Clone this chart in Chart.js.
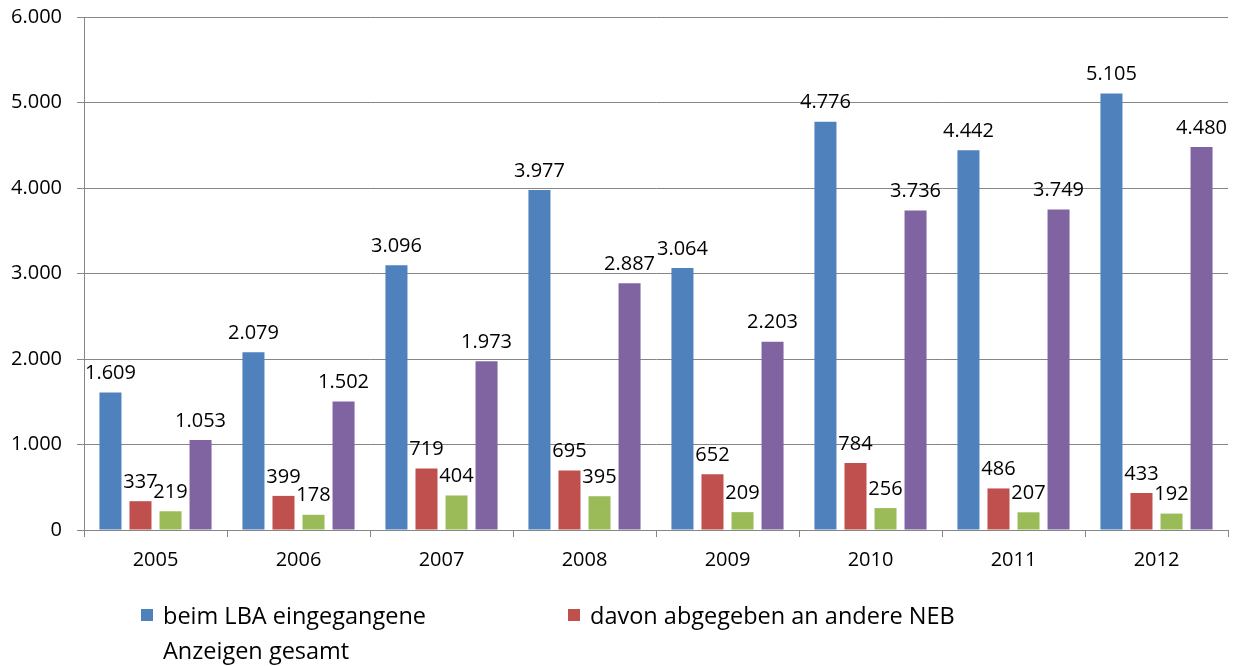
<!DOCTYPE html>
<html>
<head>
<meta charset="utf-8">
<script src="https://cdn.jsdelivr.net/npm/chart.js@4"></script>
<style>
  html, body { margin: 0; padding: 0; background: #fff; }
  #wrap { position: relative; width: 1240px; height: 666px; }
  #legend { position: absolute; left: 0; top: 0; font-family: 'Open Sans', sans-serif; font-size: 23.5px; color: #000; }
  .item { position: absolute; line-height: 35px; }
  .box { position: absolute; width: 12px; height: 12px; top: 11px; }
  .txt { position: absolute; left: 22px; white-space: nowrap; }
</style>
</head>
<body>
<div id="wrap">
  <canvas id="c" width="1240" height="666"></canvas>
  <div id="legend"></div>
</div>
<script>
const years = ['2005', '2006', '2007', '2008', '2009', '2010', '2011', '2012']
const eingegangen = [1609, 2079, 3096, 3977, 3064, 4776, 4442, 5105]
const abgegeben = [337, 399, 719, 695, 652, 784, 486, 433]
const green = [219, 178, 404, 395, 209, 256, 207, 192]
const purple = [1053, 1502, 1973, 2887, 2203, 3736, 3749, 4480]
const yTicks = [0, 1000, 2000, 3000, 4000, 5000, 6000]

const fmt = (n) => String(n).replace(/\B(?=(\d{3})+(?!\d))/g, '.')
const font = { family: "'Open Sans', sans-serif", size: 20 }
const gridColor = '#868686'

// value labels on top of every bar
const barLabels = {
  id: 'barLabels',
  afterDatasetsDraw(chart) {
    const ctx = chart.ctx
    ctx.save()
    ctx.font = `${font.size}px ${font.family}`
    ctx.fillStyle = '#000'
    ctx.textAlign = 'center'
    ctx.textBaseline = 'bottom'
    chart.data.datasets.forEach((ds, i) => {
      chart.getDatasetMeta(i).data.forEach((bar, j) => {
        ctx.fillText(fmt(ds.data[j]), bar.x, bar.y - 9)
      })
    })
    ctx.restore()
  },
}

const chart = new Chart(document.getElementById('c'), {
  type: 'bar',
  data: {
    labels: years,
    datasets: [
      { label: 'beim LBA eingegangene Anzeigen gesamt', data: eingegangen, backgroundColor: '#4F81BD', legend: true },
      { label: 'davon abgegeben an andere NEB', data: abgegeben, backgroundColor: '#C0504D', legend: true },
      { label: '', data: green, backgroundColor: '#9BBB59' },
      { label: '', data: purple, backgroundColor: '#8064A2' },
    ],
  },
  options: {
    responsive: false,
    animation: false,
    categoryPercentage: 0.84,
    barPercentage: 0.733,
    layout: { padding: { top: 17, right: 12, left: 0, bottom: 0 } },
    plugins: { legend: { display: false }, tooltip: { enabled: false } },
    scales: {
      x: {
        grid: { offset: true, drawOnChartArea: false, drawTicks: true, tickLength: 7, color: gridColor },
        border: { color: gridColor },
        ticks: { font, color: '#000', padding: 11, maxRotation: 0 },
        afterFit: (s) => { s.height = 136 },
      },
      y: {
        min: 0,
        max: 6000,
        afterBuildTicks: (s) => { s.ticks = yTicks.map((v) => ({ value: v })) },
        grid: { color: gridColor, tickLength: 7 },
        border: { color: gridColor },
        ticks: { font, color: '#000', padding: 15, callback: (v) => fmt(v) },
        afterFit: (s) => { s.width = 84; s.paddingTop = 0; s.paddingBottom = 0 },
      },
    },
  },
  plugins: [barLabels],
})

// legend (only the first two series are listed)
const legendPos = [[141, 598], [568, 598]]
const legend = document.getElementById('legend')
chart.data.datasets.filter((d) => d.legend).forEach((d, i) => {
  const el = document.createElement('div')
  el.className = 'item'
  el.style.left = legendPos[i][0] + 'px'
  el.style.top = legendPos[i][1] + 'px'
  const text = i === 0 ? 'beim LBA eingegangene<br>Anzeigen gesamt' : d.label
  el.innerHTML = `<span class="box" style="background:${d.backgroundColor}"></span><span class="txt">${text}</span>`
  legend.appendChild(el)
})
</script>
</body>
</html>
